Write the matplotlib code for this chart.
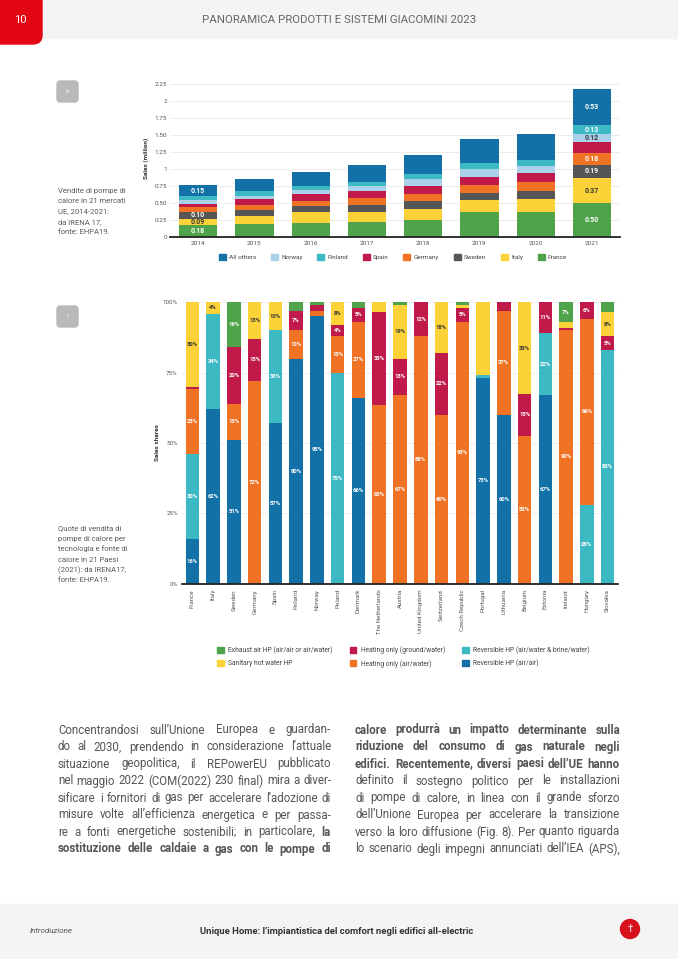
import matplotlib
matplotlib.use("Agg")
import matplotlib.pyplot as plt
from matplotlib.patches import Patch, Rectangle, FancyBboxPatch, Circle

W, H = 678, 959

# --- chart 6: heat pump sales, million units ---
years = ["2014", "2015", "2016", "2017", "2018", "2019", "2020", "2021"]
france = [0.18, 0.195, 0.205, 0.22, 0.255, 0.37, 0.37, 0.50]
italy = [0.09, 0.11, 0.16, 0.155, 0.16, 0.175, 0.195, 0.37]
sweden = [0.10, 0.10, 0.10, 0.10, 0.115, 0.11, 0.115, 0.19]
germany = [0.07, 0.07, 0.07, 0.095, 0.10, 0.105, 0.13, 0.18]
spain = [0.055, 0.085, 0.095, 0.11, 0.12, 0.13, 0.13, 0.15]
norway = [0.045, 0.05, 0.065, 0.075, 0.10, 0.11, 0.10, 0.12]
finland = [0.07, 0.07, 0.06, 0.055, 0.075, 0.09, 0.095, 0.13]
all_others = [0.15, 0.17, 0.195, 0.25, 0.28, 0.35, 0.38, 0.53]
sales_yticks = [0, 0.25, 0.5, 0.75, 1, 1.25, 1.5, 1.75, 2, 2.25]
sales_yticklabels = ["0", "0.25", "0.50", "0.75", "1", "1.25", "1.50", "1.75", "2", "2.25"]
# which bars carry value labels
sales_labelled = {0: ["France", "Italy", "Sweden", "All others"],
                  7: ["France", "Italy", "Sweden", "Germany", "Norway", "Finland", "All others"]}

# --- chart 7: sales shares by technology, % ---
countries = ["France", "Italy", "Sweden", "Germany", "Spain", "Finland", "Norway", "Poland",
             "Denmark", "The Netherlands", "Austria", "United Kingdom", "Switzerland",
             "Czech Republic", "Portugal", "Lithuania", "Belgium", "Estonia", "Ireland",
             "Hungary", "Slovakia"]
rev_air_air = [16, 62, 51, 0, 57, 80, 95, 0, 66, 0, 0, 0, 0, 0, 73, 60, 0, 67, 0, 0, 0]
rev_air_water = [30, 34, 0, 0, 33, 0, 0, 75, 0, 0, 0, 0, 0, 0, 1, 0, 0, 22, 0, 28, 83]
heat_air_water = [23, 0, 13, 72, 0, 10, 2, 13, 27, 63.4, 67, 88, 60, 93, 0, 37, 52.6, 0, 90, 66, 0]
heat_ground_water = [1, 0, 20, 15, 0, 7, 2, 4, 5, 33, 13, 12, 22, 5, 0, 3, 14.8, 11, 1, 6, 5]
sanitary = [30, 4, 0, 13, 10, 0, 0, 8, 0, 3.6, 19, 0, 18, 1, 26, 0, 32.6, 0, 2, 0, 8.4]
exhaust = [0, 0, 16, 0, 0, 3, 1, 0, 2, 0, 1, 0, 0, 1, 0, 0, 0, 0, 7, 0, 3.6]
share_yticks = [0, 25, 50, 75, 100]
share_unlabelled = [("Portugal", "Sanitary hot water HP")]

C_BLUE = "#1272a8"
C_LBLUE = "#a9d1ea"
C_TEAL = "#3db9c4"
C_RED = "#c01a4b"
C_ORANGE = "#f07225"
C_GREY = "#565656"
C_YELLOW = "#fbd338"
C_GREEN = "#4fa34b"

FONT = ["Roboto", "DejaVu Sans"]
plt.rcParams["font.family"] = FONT

fig = plt.figure(figsize=(W / 100, H / 100), dpi=100)
bg = fig.add_axes([0, 0, 1, 1])
bg.set_xlim(0, W)
bg.set_ylim(H, 0)
bg.axis("off")


def px_axes(x0, y0, x1, y1):
    return fig.add_axes([x0 / W, 1 - y1 / H, (x1 - x0) / W, (y1 - y0) / H])


# header / footer
bg.add_patch(Rectangle((0, 0), W, 38, color="#f4f4f4", zorder=0))
bg.add_patch(FancyBboxPatch((-20, -20), 62, 64, boxstyle="round,pad=0,rounding_size=9",
                            color="#e30613", zorder=1))
bg.text(20, 20, "10", color="white", fontsize=8, ha="center", va="center", zorder=2)
bg.text(339, 20, "PANORAMICA PRODOTTI E SISTEMI GIACOMINI 2023", color="#666666",
        fontsize=8.2, ha="center", va="center")
bg.add_patch(Rectangle((0, 904), W, 55, color="#f4f4f4", zorder=0))
bg.text(30, 931, "Introduzione", color="#555555", fontsize=5.8, style="italic", va="center")
bg.text(200, 931, "Unique Home: l\u2019impiantistica del comfort negli edifici all-electric",
        color="#333333", fontsize=6.8, fontweight="bold", va="center")
bg.add_patch(Circle((630, 929), 9.5, color="#d8101c", zorder=2))
bg.text(630, 929, "\u2020", color="white", fontsize=7, ha="center", va="center", zorder=3)

# figure number badges
for num, y in [("6", 81), ("7", 306)]:
    bg.add_patch(FancyBboxPatch((57, y), 21, 21, boxstyle="round,pad=0,rounding_size=3",
                                color="#b9b9b9", zorder=1))
    bg.text(67.5, y + 10.5, num, color="white", fontsize=4, ha="center", va="center", zorder=2)

# captions
cap6 = ["Vendite di pompe di", "calore in 21 mercati", "UE, 2014-2021:", "da IRENA 17,", "fonte: EHPA19."]
cap7 = ["Quote di vendita di", "pompe di calore per", "tecnologia e fonte di", "calore in 21 Paesi",
        "(2021): da IRENA17,", "fonte: EHPA19."]
for i, line in enumerate(cap6):
    bg.text(58, 190.5 + i * 10.5, line, color="#5a5a5a", fontsize=5.5, va="center")
for i, line in enumerate(cap7):
    bg.text(58, 528 + i * 10.5, line, color="#5a5a5a", fontsize=5.5, va="center")

# ---------------- chart 6 ----------------
ax1 = px_axes(170, 80.3, 620, 237.3)
series1 = [("France", france, C_GREEN), ("Italy", italy, C_YELLOW), ("Sweden", sweden, C_GREY),
           ("Germany", germany, C_ORANGE), ("Spain", spain, C_RED), ("Norway", norway, C_LBLUE),
           ("Finland", finland, C_TEAL), ("All others", all_others, C_BLUE)]
x1 = list(range(len(years)))
bottom = [0.0] * len(years)
for name, vals, col in series1:
    ax1.bar(x1, vals, 0.68, bottom=bottom, color=col, zorder=2)
    for i, v in enumerate(vals):
        if name in sales_labelled.get(i, []):
            tc = "#333333" if col in (C_YELLOW, C_LBLUE) else "white"
            ax1.text(i, bottom[i] + v / 2, f"{v:.2f}", ha="center", va="center",
                     fontsize=5, color=tc, fontweight="bold", zorder=3)
    bottom = [b + v for b, v in zip(bottom, vals)]
ax1.set_xlim(-0.5, len(years) - 0.5)
ax1.set_ylim(0, 2.3)
ax1.set_xticks(x1)
ax1.set_xticklabels(years)
ax1.set_yticks(sales_yticks)
ax1.set_yticklabels(sales_yticklabels)
ax1.tick_params(length=0, labelsize=4.6, colors="#555555")
ax1.tick_params(axis="y", pad=2)
ax1.tick_params(axis="x", pad=3)
ax1.grid(axis="y", color="#e9e9e9", lw=0.6, zorder=0)
for s in ["top", "right", "left"]:
    ax1.spines[s].set_visible(False)
ax1.spines["bottom"].set_color("#222222")
ax1.spines["bottom"].set_linewidth(1.3)
ax1.spines["bottom"].set_zorder(4)
ax1.set_ylabel("Sales (million)", fontsize=4.6, color="#333333", fontweight="bold", labelpad=4)

leg1_order = ["All others", "Norway", "Finland", "Spain", "Germany", "Sweden", "Italy", "France"]
cols1 = {n: c for n, _, c in series1}
fig.legend([Patch(color=cols1[n]) for n in leg1_order], leg1_order, ncol=8, loc="center",
           bbox_to_anchor=(393 / W, 1 - 257 / H), frameon=False, fontsize=4.6,
           handlelength=1.1, handleheight=1.1, handletextpad=0.5, columnspacing=2.3,
           labelcolor="#444444")

# ---------------- chart 7 ----------------
ax2 = px_axes(182, 302.3, 618, 583.5)
series2 = [("Reversible HP (air/air)", rev_air_air, C_BLUE),
           ("Reversible HP (air/water & brine/water)", rev_air_water, C_TEAL),
           ("Heating only (air/water)", heat_air_water, C_ORANGE),
           ("Heating only (ground/water)", heat_ground_water, C_RED),
           ("Sanitary hot water HP", sanitary, C_YELLOW),
           ("Exhaust air HP (air/air or air/water)", exhaust, C_GREEN)]
x2 = list(range(len(countries)))
bottom = [0.0] * len(countries)
for name, vals, col in series2:
    ax2.bar(x2, vals, 0.65, bottom=bottom, color=col, zorder=2)
    for i, v in enumerate(vals):
        if v >= 4 and (countries[i], name) not in share_unlabelled:
            tc = "#333333" if col == C_YELLOW else "white"
            ax2.text(i, bottom[i] + v / 2, f"{v:.0f}%", ha="center", va="center",
                     fontsize=4.2, color=tc, fontweight="bold", zorder=3)
    bottom = [b + v for b, v in zip(bottom, vals)]
ax2.set_xlim(-0.5, len(countries) - 0.5)
ax2.set_ylim(0, 100)
ax2.set_xticks(x2)
ax2.set_xticklabels(countries, rotation=90)
ax2.set_yticks(share_yticks)
ax2.set_yticklabels([f"{t}%" for t in share_yticks])
ax2.tick_params(length=0, labelsize=4.4, colors="#555555")
ax2.tick_params(axis="y", pad=3)
ax2.tick_params(axis="x", pad=4)
ax2.grid(axis="y", color="#ececec", lw=0.6, zorder=0)
for s in ["top", "right", "left"]:
    ax2.spines[s].set_visible(False)
ax2.spines["bottom"].set_color("#222222")
ax2.spines["bottom"].set_linewidth(1.3)
ax2.spines["bottom"].set_zorder(4)
ax2.set_ylabel("Sales shares", fontsize=4.6, color="#333333", fontweight="bold", labelpad=2)

leg2_names = ["Exhaust air HP (air/air or air/water)", "Sanitary hot water HP",
              "Heating only (ground/water)", "Heating only (air/water)",
              "Reversible HP (air/water & brine/water)", "Reversible HP (air/air)"]
cols2 = {n: c for n, _, c in series2}
fig.legend([Patch(color=cols2[n]) for n in leg2_names], leg2_names, ncol=3, loc="upper left",
           bbox_to_anchor=(211 / W, 1 - 640 / H), frameon=False, fontsize=4.9,
           handlelength=1.0, handleheight=1.0, handletextpad=0.6, columnspacing=2.5,
           labelspacing=0.8, labelcolor="#444444")

# ---------------- body text ----------------
left_lines = [
    "Concentrandosi sull\u2019Unione Europea e guardan-",
    "do al 2030, prendendo in considerazione l\u2019attuale",
    "situazione geopolitica, il REPowerEU pubblicato",
    "nel maggio 2022 (COM(2022) 230 final) mira a diver-",
    "sificare i fornitori di gas per accelerare l\u2019adozione di",
    "misure volte all\u2019efficienza energetica e per passa-",
    "re a fonti energetiche sostenibili; in particolare, **la",
    "**sostituzione delle caldaie a gas con le pompe di",
]
right_lines = [
    "**calore produrr\u00e0 un impatto determinante sulla",
    "**riduzione del consumo di gas naturale negli",
    "**edifici. Recentemente, diversi paesi dell\u2019UE hanno",
    "definito il sostegno politico per le installazioni",
    "di pompe di calore, in linea con il grande sforzo",
    "dell\u2019Unione Europea per accelerare la transizione",
    "verso la loro diffusione (Fig. 8). Per quanto riguarda",
    "lo scenario degli impegni annunciati dell\u2019IEA (APS),",
]
renderer = fig.canvas.get_renderer()


def justify(line, x0, x1, y):
    on = False
    objs = []
    for w in line.split(" "):
        # once bold starts on a line it stays bold to line end
        on = on or w.startswith("**")
        objs.append(bg.text(0, y, w.lstrip("*"), fontsize=8.3, color="#555555", va="center",
                            fontweight="bold" if on else "normal"))
    widths = [t.get_window_extent(renderer).width for t in objs]
    gap = (x1 - x0 - sum(widths)) / max(len(objs) - 1, 1)
    gap = max(gap, 2.0)
    x = x0
    for t, w in zip(objs, widths):
        t.set_x(x)
        x += w + gap


for i, line in enumerate(left_lines):
    justify(line, 58, 331, 730 + i * 17)
for i, line in enumerate(right_lines):
    justify(line, 355, 620, 730 + i * 17)

fig.savefig("out.png", dpi=100)
